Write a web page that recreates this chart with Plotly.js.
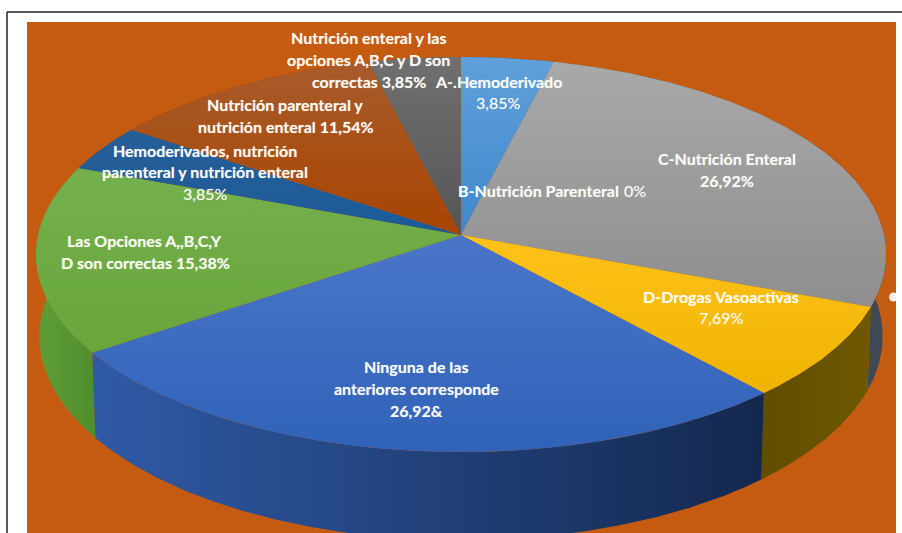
<!DOCTYPE html>
<html>
<head>
<meta charset="utf-8">
<script src="https://cdn.plot.ly/plotly-3.0.1.min.js"></script>
<style>html,body{margin:0;padding:0;background:#fff}#chart{width:902px;height:533px}</style>
</head>
<body>
<div id="chart"></div>
<script>
// Data: slices clockwise from 12 o'clock
const categories = ['A-.Hemoderivado','B-Nutrición Parenteral','C-Nutrición Enteral','D-Drogas Vasoactivas','Ninguna de las anteriores corresponde','Las Opciones A,,B,C,Y D son correctas','Hemoderivados, nutrición parenteral y nutrición enteral','Nutrición parenteral y nutrición enteral','Nutrición enteral y las opciones A,B,C y D son correctas'];
const values = [3.85, 0, 26.92, 7.69, 26.92, 15.38, 3.85, 11.54, 3.85];

// Styles
const faceTop = ['#5fa0da','#a5a5a5','#a9a9a9','#ffc21a','#4a76c8','#74b04c','#265f96','#a85c2c','#707070'];
const faceBot = ['#3f88cc','#a5a5a5','#8e8e8e','#eeb400','#2f62b8','#68a63c','#1c5a9a','#a84400','#555555'];
const wallStart = ['#2a5a88','#888888','#5a5a5a','#5f4e00','#2f5aa6','#5f9e36','#1e4f80','#8a3e0c','#505050'];
const wallEnd = ['#2a5a88','#888888','#3e4854','#6e5800','#14284e','#4f8e2c','#1e4f80','#8a3e0c','#505050'];

// Text lines
const labelLines = ['Nutrición enteral y las','opciones A,B,C y D son','correctas 3,85%','A-.Hemoderivado','3,85%','B-Nutrición Parenteral','0%','C-Nutrición Enteral','26,92%','D-Drogas Vasoactivas','7,69%','Ninguna de las','anteriores corresponde','26,92&','Nutrición parenteral y','nutrición enteral 11,54%','Hemoderivados, nutrición','parenteral y nutrición enteral','3,85%','Las Opciones A,,B,C,Y','D son correctas 15,38%'];
const labelX = [368,368,369,498,498,538,635,727,727,721,721,416,416,416,285,286,205,205,205,144,145];
const labelY = [37,59,81,81,102,190,190,158,180,296,317,366,388,410,104,126,150,171,193,240,262];
const labelBold = [1,1,1,1,0,1,0,1,1,1,0,1,1,1,1,1,1,1,0,1,1];

// Projection of the pie disc onto the page
const cx = 461, cy = 235, Rx = 423, Ry = 195.6, persp = 0.0987, depth = 82, shrink = 0.008;
const total = values.reduce((a,b)=>a+b,0);
function topPt(deg){
  const r = deg*Math.PI/180, u = Math.sin(r), v = Math.cos(r), w = 1+persp*v;
  return [cx+Rx*u/w, cy-Ry*v/w];
}
function botPt(deg){
  const r = deg*Math.PI/180, u = Math.sin(r), v = Math.cos(r), w = 1+persp*v+shrink;
  return [cx+Rx*u/w, cy+(depth-Ry*v)/w];
}
function arc(fn,a,b){
  const n = Math.max(2,Math.ceil((b-a)*2)), out = [];
  for(let i=0;i<=n;i++) out.push(fn(a+(b-a)*i/n));
  return out;
}
const walls = [], faces = [];
let acc = 0;
values.forEach((val,i)=>{
  const a = acc/total*360, b = (acc+val)/total*360; acc += val;
  if(val<=0) return;
  const t = arc(topPt,a,b), bt = arc(botPt,a,b).reverse();
  const wp = t.concat(bt);
  wp.push(wp[0]);
  const maxY = Math.max(...wp.map(p=>p[1]));
  walls.push({order:maxY,trace:{
    type:'scatter',mode:'lines',x:wp.map(p=>p[0]),y:wp.map(p=>p[1]),fill:'toself',line:{width:0},
    fillgradient:{type:'horizontal',colorscale:[[0,wallStart[i]],[1,wallEnd[i]]]},hoverinfo:'skip',showlegend:false,name:categories[i]}});
  const fp = [[cx,cy]].concat(t,[[cx,cy]]);
  faces.push({
    type:'scatter',mode:'lines',x:fp.map(p=>p[0]),y:fp.map(p=>p[1]),fill:'toself',line:{width:0},
    fillgradient:{type:'vertical',colorscale:[[0,faceBot[i]],[1,faceTop[i]]]},hoverinfo:'skip',showlegend:false,name:categories[i]});
});
walls.sort((p,q)=>p.order-q.order);
const handle = {type:'scatter',mode:'markers',x:[893.5],y:[297],marker:{size:9,color:'#ffffff',opacity:0.9,line:{width:0}},cliponaxis:false,hoverinfo:'skip',showlegend:false};
const traces = walls.map(w=>w.trace).concat(faces,[handle]);

const annotations = labelLines.map((s,i)=>({
  text:s,x:labelX[i],y:labelY[i],xref:'x',yref:'y',showarrow:false,xanchor:'center',yanchor:'middle',
  font:{family:'Lato, sans-serif',size:16,color:'#fbfbf4',weight:labelBold[i]?'bold':'normal',shadow:'0 0 1px rgba(255,255,255,0.45)'}
}));

const layout = {
  width:902,height:533,margin:{l:0,r:0,t:0,b:0},paper_bgcolor:'#ffffff',plot_bgcolor:'rgba(0,0,0,0)',
  xaxis:{range:[0,902],visible:false,fixedrange:true},
  yaxis:{range:[533,0],visible:false,fixedrange:true},
  showlegend:false,hovermode:false,
  shapes:[
    {type:'rect',layer:'below',xref:'x',yref:'y',x0:27,x1:896,y0:22,y1:533,fillcolor:'#c55a11',line:{width:0}},
    {type:'line',layer:'below',xref:'x',yref:'y',x0:7,x1:902,y0:12,y1:12,line:{color:'#222222',width:1.5}},
    {type:'line',layer:'below',xref:'x',yref:'y',x0:7,x1:7,y0:12,y1:533,line:{color:'#222222',width:1.5}}
  ],
  annotations
};
Plotly.newPlot('chart',traces,layout,{displayModeBar:false,staticPlot:true});
</script>
</body>
</html>
